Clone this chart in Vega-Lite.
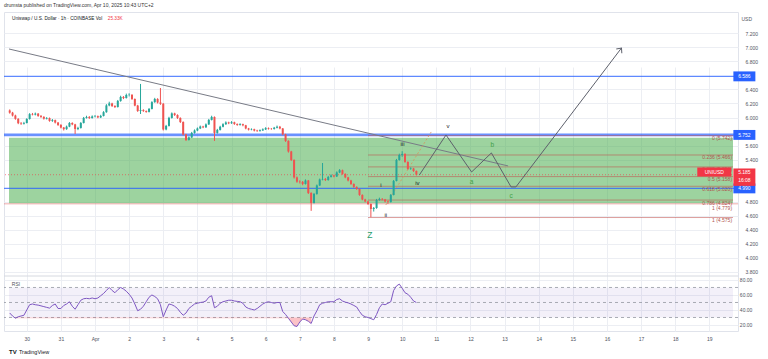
{
"$schema":"https://vega.github.io/schema/vega-lite/v6.json",
"width":734,"height":319,
"autosize":{"type":"none"},
"padding":{"left":4,"top":12,"right":30,"bottom":28},
"background":"#ffffff",
"title":{"text":"drumsta published on TradingView.com, Apr 10, 2025 10:43 UTC+2","anchor":"start","frame":"group","fontSize":5,"fontWeight":"normal","color":"#333333","offset":4},
"config":{"font":"Liberation Sans","view":{"stroke":"#e0e3eb"},"axis":{"labelOverlap":false,"labelSeparation":0}},
"data":{"format":{"parse":{"t":"utc:'%Y-%m-%d %H'"}},"values":[
{"t":"2025-03-29 12","o":6.1,"h":6.115,"l":6.055,"c":6.069,"r":36},
{"t":"2025-03-29 14","o":6.069,"h":6.08,"l":6.015,"c":6.028,"r":32},
{"t":"2025-03-29 16","o":6.028,"h":6.04,"l":5.968,"c":5.981,"r":29},
{"t":"2025-03-29 18","o":5.981,"h":5.99,"l":5.905,"c":5.919,"r":31},
{"t":"2025-03-29 20","o":5.919,"h":5.935,"l":5.895,"c":5.912,"r":32},
{"t":"2025-03-29 22","o":5.912,"h":5.938,"l":5.9,"c":5.922,"r":33},
{"t":"2025-03-30 00","o":5.922,"h":5.99,"l":5.915,"c":5.979,"r":40},
{"t":"2025-03-30 02","o":5.979,"h":6.062,"l":5.97,"c":6.048,"r":47},
{"t":"2025-03-30 04","o":6.048,"h":6.065,"l":6.03,"c":6.041,"r":48},
{"t":"2025-03-30 06","o":6.041,"h":6.07,"l":6.03,"c":6.055,"r":47},
{"t":"2025-03-30 08","o":6.055,"h":6.063,"l":6.01,"c":6.022,"r":46.5},
{"t":"2025-03-30 10","o":6.022,"h":6.035,"l":5.995,"c":6.009,"r":45.5},
{"t":"2025-03-30 12","o":6.009,"h":6.018,"l":5.97,"c":5.983,"r":44.5},
{"t":"2025-03-30 14","o":5.983,"h":6.005,"l":5.972,"c":5.992,"r":43.5},
{"t":"2025-03-30 16","o":5.992,"h":6.0,"l":5.94,"c":5.951,"r":42.5},
{"t":"2025-03-30 18","o":5.951,"h":5.978,"l":5.938,"c":5.962,"r":46},
{"t":"2025-03-30 20","o":5.962,"h":5.97,"l":5.915,"c":5.928,"r":48},
{"t":"2025-03-30 22","o":5.928,"h":5.935,"l":5.88,"c":5.894,"r":42},
{"t":"2025-03-31 00","o":5.894,"h":5.905,"l":5.845,"c":5.857,"r":42},
{"t":"2025-03-31 02","o":5.857,"h":5.865,"l":5.815,"c":5.834,"r":46},
{"t":"2025-03-31 04","o":5.834,"h":5.885,"l":5.825,"c":5.87,"r":48},
{"t":"2025-03-31 06","o":5.87,"h":5.935,"l":5.862,"c":5.922,"r":51},
{"t":"2025-03-31 08","o":5.922,"h":5.932,"l":5.89,"c":5.902,"r":45},
{"t":"2025-03-31 10","o":5.902,"h":5.91,"l":5.765,"c":5.837,"r":41},
{"t":"2025-03-31 12","o":5.837,"h":5.868,"l":5.82,"c":5.851,"r":47},
{"t":"2025-03-31 14","o":5.851,"h":5.935,"l":5.842,"c":5.922,"r":53},
{"t":"2025-03-31 16","o":5.922,"h":6.008,"l":5.915,"c":5.994,"r":55},
{"t":"2025-03-31 18","o":5.994,"h":6.025,"l":5.985,"c":6.008,"r":55.5},
{"t":"2025-03-31 20","o":6.008,"h":6.02,"l":5.98,"c":5.992,"r":55},
{"t":"2025-03-31 22","o":5.992,"h":6.03,"l":5.985,"c":6.015,"r":56},
{"t":"2025-04-01 00","o":6.015,"h":6.035,"l":6.002,"c":6.019,"r":55},
{"t":"2025-04-01 02","o":6.019,"h":6.028,"l":5.99,"c":6.002,"r":56},
{"t":"2025-04-01 04","o":6.002,"h":6.038,"l":5.992,"c":6.022,"r":59},
{"t":"2025-04-01 06","o":6.022,"h":6.09,"l":6.015,"c":6.076,"r":62},
{"t":"2025-04-01 08","o":6.076,"h":6.19,"l":6.068,"c":6.172,"r":66},
{"t":"2025-04-01 10","o":6.172,"h":6.225,"l":6.16,"c":6.2,"r":70},
{"t":"2025-04-01 12","o":6.2,"h":6.21,"l":6.15,"c":6.164,"r":66},
{"t":"2025-04-01 14","o":6.164,"h":6.175,"l":6.135,"c":6.15,"r":63},
{"t":"2025-04-01 16","o":6.15,"h":6.25,"l":6.142,"c":6.236,"r":67},
{"t":"2025-04-01 18","o":6.236,"h":6.31,"l":6.225,"c":6.293,"r":70},
{"t":"2025-04-01 20","o":6.293,"h":6.305,"l":6.262,"c":6.278,"r":68},
{"t":"2025-04-01 22","o":6.278,"h":6.34,"l":6.27,"c":6.321,"r":65},
{"t":"2025-04-02 00","o":6.321,"h":6.345,"l":6.3,"c":6.324,"r":61},
{"t":"2025-04-02 02","o":6.324,"h":6.33,"l":6.25,"c":6.264,"r":56},
{"t":"2025-04-02 04","o":6.264,"h":6.272,"l":6.16,"c":6.17,"r":48},
{"t":"2025-04-02 06","o":6.17,"h":6.18,"l":6.08,"c":6.093,"r":39},
{"t":"2025-04-02 08","o":6.093,"h":6.478,"l":6.05,"c":6.105,"r":41},
{"t":"2025-04-02 10","o":6.105,"h":6.118,"l":6.08,"c":6.093,"r":45},
{"t":"2025-04-02 12","o":6.093,"h":6.1,"l":6.068,"c":6.08,"r":51},
{"t":"2025-04-02 14","o":6.08,"h":6.135,"l":6.072,"c":6.122,"r":57},
{"t":"2025-04-02 16","o":6.122,"h":6.232,"l":6.115,"c":6.219,"r":60},
{"t":"2025-04-02 18","o":6.219,"h":6.28,"l":6.21,"c":6.264,"r":58},
{"t":"2025-04-02 20","o":6.264,"h":6.275,"l":6.2,"c":6.214,"r":55},
{"t":"2025-04-02 22","o":6.214,"h":6.42,"l":6.18,"c":6.196,"r":47},
{"t":"2025-04-03 00","o":6.196,"h":6.205,"l":5.815,"c":5.83,"r":31},
{"t":"2025-04-03 02","o":5.83,"h":5.895,"l":5.818,"c":5.88,"r":40},
{"t":"2025-04-03 04","o":5.88,"h":6.01,"l":5.872,"c":5.994,"r":48},
{"t":"2025-04-03 06","o":5.994,"h":6.072,"l":5.985,"c":6.058,"r":47},
{"t":"2025-04-03 08","o":6.058,"h":6.068,"l":6.022,"c":6.036,"r":45},
{"t":"2025-04-03 10","o":6.036,"h":6.045,"l":5.98,"c":5.994,"r":42},
{"t":"2025-04-03 12","o":5.994,"h":6.002,"l":5.922,"c":5.936,"r":37},
{"t":"2025-04-03 14","o":5.936,"h":5.945,"l":5.745,"c":5.758,"r":33},
{"t":"2025-04-03 16","o":5.758,"h":5.768,"l":5.665,"c":5.68,"r":36},
{"t":"2025-04-03 18","o":5.68,"h":5.73,"l":5.672,"c":5.716,"r":42},
{"t":"2025-04-03 20","o":5.716,"h":5.795,"l":5.708,"c":5.78,"r":45},
{"t":"2025-04-03 22","o":5.78,"h":5.83,"l":5.77,"c":5.815,"r":48},
{"t":"2025-04-04 00","o":5.815,"h":5.858,"l":5.805,"c":5.844,"r":49},
{"t":"2025-04-04 02","o":5.844,"h":5.885,"l":5.835,"c":5.871,"r":50},
{"t":"2025-04-04 04","o":5.871,"h":5.882,"l":5.848,"c":5.86,"r":50.5},
{"t":"2025-04-04 06","o":5.86,"h":5.915,"l":5.852,"c":5.901,"r":52},
{"t":"2025-04-04 08","o":5.901,"h":5.98,"l":5.895,"c":5.965,"r":57},
{"t":"2025-04-04 10","o":5.965,"h":6.025,"l":5.958,"c":6.008,"r":59},
{"t":"2025-04-04 12","o":6.008,"h":6.015,"l":5.666,"c":5.78,"r":43},
{"t":"2025-04-04 14","o":5.78,"h":5.838,"l":5.77,"c":5.823,"r":45},
{"t":"2025-04-04 16","o":5.823,"h":5.882,"l":5.815,"c":5.868,"r":49},
{"t":"2025-04-04 18","o":5.868,"h":5.918,"l":5.86,"c":5.904,"r":51},
{"t":"2025-04-04 20","o":5.904,"h":5.945,"l":5.895,"c":5.929,"r":52},
{"t":"2025-04-04 22","o":5.929,"h":5.94,"l":5.905,"c":5.918,"r":53},
{"t":"2025-04-05 00","o":5.918,"h":5.948,"l":5.91,"c":5.932,"r":53},
{"t":"2025-04-05 02","o":5.932,"h":5.94,"l":5.895,"c":5.908,"r":52},
{"t":"2025-04-05 04","o":5.908,"h":5.915,"l":5.882,"c":5.894,"r":51.5},
{"t":"2025-04-05 06","o":5.894,"h":5.918,"l":5.885,"c":5.905,"r":51},
{"t":"2025-04-05 08","o":5.905,"h":5.912,"l":5.875,"c":5.889,"r":49},
{"t":"2025-04-05 10","o":5.889,"h":5.895,"l":5.832,"c":5.844,"r":44},
{"t":"2025-04-05 12","o":5.844,"h":5.852,"l":5.815,"c":5.828,"r":42},
{"t":"2025-04-05 14","o":5.828,"h":5.845,"l":5.818,"c":5.833,"r":41},
{"t":"2025-04-05 16","o":5.833,"h":5.84,"l":5.802,"c":5.814,"r":40},
{"t":"2025-04-05 18","o":5.814,"h":5.825,"l":5.795,"c":5.808,"r":42},
{"t":"2025-04-05 20","o":5.808,"h":5.83,"l":5.798,"c":5.817,"r":45},
{"t":"2025-04-05 22","o":5.817,"h":5.845,"l":5.808,"c":5.831,"r":48},
{"t":"2025-04-06 00","o":5.831,"h":5.862,"l":5.822,"c":5.848,"r":50},
{"t":"2025-04-06 02","o":5.848,"h":5.858,"l":5.828,"c":5.839,"r":51},
{"t":"2025-04-06 04","o":5.839,"h":5.85,"l":5.825,"c":5.837,"r":50},
{"t":"2025-04-06 06","o":5.837,"h":5.866,"l":5.828,"c":5.854,"r":49},
{"t":"2025-04-06 08","o":5.854,"h":5.885,"l":5.845,"c":5.868,"r":50},
{"t":"2025-04-06 10","o":5.868,"h":5.88,"l":5.832,"c":5.844,"r":50},
{"t":"2025-04-06 12","o":5.844,"h":5.85,"l":5.748,"c":5.76,"r":38},
{"t":"2025-04-06 14","o":5.76,"h":5.768,"l":5.652,"c":5.666,"r":34},
{"t":"2025-04-06 16","o":5.666,"h":5.675,"l":5.5,"c":5.516,"r":29},
{"t":"2025-04-06 18","o":5.516,"h":5.525,"l":5.38,"c":5.395,"r":24},
{"t":"2025-04-06 20","o":5.395,"h":5.405,"l":5.13,"c":5.147,"r":19},
{"t":"2025-04-06 22","o":5.147,"h":5.16,"l":5.07,"c":5.086,"r":18},
{"t":"2025-04-07 00","o":5.086,"h":5.105,"l":5.06,"c":5.082,"r":24},
{"t":"2025-04-07 02","o":5.082,"h":5.095,"l":5.035,"c":5.053,"r":28},
{"t":"2025-04-07 04","o":5.053,"h":5.118,"l":5.045,"c":5.103,"r":27},
{"t":"2025-04-07 06","o":5.103,"h":5.11,"l":4.91,"c":4.925,"r":25},
{"t":"2025-04-07 08","o":4.925,"h":4.935,"l":4.67,"c":4.783,"r":22},
{"t":"2025-04-07 10","o":4.783,"h":4.925,"l":4.775,"c":4.911,"r":32},
{"t":"2025-04-07 12","o":4.911,"h":5.045,"l":4.9,"c":5.032,"r":39},
{"t":"2025-04-07 14","o":5.032,"h":5.13,"l":5.025,"c":5.117,"r":47},
{"t":"2025-04-07 16","o":5.117,"h":5.352,"l":5.105,"c":5.124,"r":49},
{"t":"2025-04-07 18","o":5.124,"h":5.138,"l":5.095,"c":5.11,"r":50},
{"t":"2025-04-07 20","o":5.11,"h":5.168,"l":5.1,"c":5.153,"r":51},
{"t":"2025-04-07 22","o":5.153,"h":5.19,"l":5.145,"c":5.174,"r":51},
{"t":"2025-04-08 00","o":5.174,"h":5.185,"l":5.148,"c":5.16,"r":51},
{"t":"2025-04-08 02","o":5.16,"h":5.232,"l":5.152,"c":5.217,"r":54},
{"t":"2025-04-08 04","o":5.217,"h":5.265,"l":5.208,"c":5.249,"r":55},
{"t":"2025-04-08 06","o":5.249,"h":5.258,"l":5.185,"c":5.196,"r":52},
{"t":"2025-04-08 08","o":5.196,"h":5.205,"l":5.135,"c":5.147,"r":50.5},
{"t":"2025-04-08 10","o":5.147,"h":5.155,"l":5.09,"c":5.103,"r":49.5},
{"t":"2025-04-08 12","o":5.103,"h":5.112,"l":5.04,"c":5.053,"r":48},
{"t":"2025-04-08 14","o":5.053,"h":5.062,"l":4.998,"c":5.011,"r":46},
{"t":"2025-04-08 16","o":5.011,"h":5.02,"l":4.97,"c":4.982,"r":44},
{"t":"2025-04-08 18","o":4.982,"h":4.99,"l":4.885,"c":4.897,"r":38},
{"t":"2025-04-08 20","o":4.897,"h":4.905,"l":4.82,"c":4.832,"r":33},
{"t":"2025-04-08 22","o":4.832,"h":4.842,"l":4.792,"c":4.804,"r":31},
{"t":"2025-04-09 00","o":4.804,"h":4.815,"l":4.755,"c":4.768,"r":30},
{"t":"2025-04-09 02","o":4.768,"h":4.775,"l":4.58,"c":4.697,"r":28.5},
{"t":"2025-04-09 04","o":4.697,"h":4.725,"l":4.66,"c":4.711,"r":27},
{"t":"2025-04-09 06","o":4.711,"h":4.84,"l":4.7,"c":4.825,"r":34},
{"t":"2025-04-09 08","o":4.825,"h":4.858,"l":4.815,"c":4.84,"r":43},
{"t":"2025-04-09 10","o":4.84,"h":4.852,"l":4.82,"c":4.832,"r":48},
{"t":"2025-04-09 12","o":4.832,"h":4.84,"l":4.79,"c":4.804,"r":47},
{"t":"2025-04-09 14","o":4.804,"h":4.815,"l":4.77,"c":4.797,"r":49},
{"t":"2025-04-09 16","o":4.797,"h":4.91,"l":4.788,"c":4.897,"r":51},
{"t":"2025-04-09 18","o":4.897,"h":5.11,"l":4.89,"c":5.096,"r":66},
{"t":"2025-04-09 20","o":5.096,"h":5.41,"l":5.09,"c":5.395,"r":72},
{"t":"2025-04-09 22","o":5.395,"h":5.485,"l":5.385,"c":5.466,"r":74.5},
{"t":"2025-04-10 00","o":5.466,"h":5.52,"l":5.44,"c":5.481,"r":69},
{"t":"2025-04-10 02","o":5.481,"h":5.49,"l":5.355,"c":5.367,"r":63},
{"t":"2025-04-10 04","o":5.367,"h":5.375,"l":5.255,"c":5.267,"r":61},
{"t":"2025-04-10 06","o":5.267,"h":5.29,"l":5.255,"c":5.274,"r":57},
{"t":"2025-04-10 08","o":5.274,"h":5.282,"l":5.225,"c":5.238,"r":52},
{"t":"2025-04-10 10","o":5.238,"h":5.245,"l":5.175,"c":5.185,"r":50}
]},
"layer":[
{"layer":[
 {"data":{"values":[{"top":5.71,"bot":4.78}]},
  "mark":{"type":"rect","color":"#4caf50","opacity":0.55},
  "encoding":{
   "x":{"datum":{"year":2025,"month":3,"date":29,"hours":11,"minutes":30,"utc":true},"type":"temporal"},
   "x2":{"datum":{"year":2025,"month":4,"date":19,"hours":16,"minutes":40,"utc":true}},
   "y":{"field":"top","type":"quantitative","title":null},
   "y2":{"field":"bot"}}},
 {"data":{"values":[{"p":6.586},{"p":4.99}]},
  "mark":{"type":"rule","color":"#2962ff","opacity":0.75,"strokeWidth":1.2},
  "encoding":{"y":{"field":"p","type":"quantitative","title":null}}},
 {"data":{"values":[{"p":5.752}]},
  "mark":{"type":"rule","color":"#2962ff","opacity":0.7,"strokeWidth":2.6},
  "encoding":{"y":{"field":"p","type":"quantitative","title":null}}},
 {"data":{"values":[{"p":4.77}]},
  "mark":{"type":"rule","color":"#e57373","opacity":0.6,"strokeWidth":1},
  "encoding":{"y":{"field":"p","type":"quantitative","title":null}}},
 {"data":{"values":[{"p":3.742}]},
  "mark":{"type":"rule","color":"#d6d9e0","strokeWidth":1},
  "encoding":{"y":{"field":"p","type":"quantitative","title":null}}},
 {"data":{"values":[{"p":5.742},{"p":5.466},{"p":5.296},{"p":5.158},{"p":5.02},{"p":4.824},{"p":4.575}]},
  "mark":{"type":"rule","color":"#c0504d","opacity":0.55,"strokeWidth":1},
  "encoding":{
   "x":{"datum":{"year":2025,"month":4,"date":9,"hours":0,"utc":true},"type":"temporal"},
   "x2":{"datum":{"year":2025,"month":4,"date":19,"hours":16,"minutes":40,"utc":true}},
   "y":{"field":"p","type":"quantitative","title":null}}},
 {"data":{"values":[{"p":5.185}]},
  "mark":{"type":"rule","color":"#f23645","opacity":0.6,"strokeWidth":1,"strokeDash":[1,2]},
  "encoding":{"y":{"field":"p","type":"quantitative","title":null}}},
 {"data":{"values":[{"d":"2025-03-29T11:30:00Z","p":6.976},{"d":"2025-04-13T02:30:00Z","p":5.31}]},
  "mark":{"type":"line","color":"#787b86","strokeWidth":1},
  "encoding":{"x":{"field":"d","type":"temporal","title":null},"y":{"field":"p","type":"quantitative","title":null}}},
 {"data":{"values":[{"d":"2025-04-09T12:30:00Z","p":4.754},{"d":"2025-04-10T20:25:00Z","p":5.794}]},
  "mark":{"type":"line","color":"#d9915a","opacity":0.8,"strokeWidth":1,"strokeDash":[2,2]},
  "encoding":{"x":{"field":"d","type":"temporal","title":null},"y":{"field":"p","type":"quantitative","title":null}}},
 {"data":{"values":[{"d":"2025-04-10T12:05:00Z","p":5.181},{"d":"2025-04-11T06:50:00Z","p":5.751},{"d":"2025-04-12T00:50:00Z","p":5.224},{"d":"2025-04-12T14:45:00Z","p":5.495},{"d":"2025-04-13T04:35:00Z","p":5.011},{"d":"2025-04-13T08:00:00Z","p":5.011},{"d":"2025-04-16T10:15:00Z","p":6.99}]},
  "mark":{"type":"line","color":"#5d606b","strokeWidth":1},
  "encoding":{"x":{"field":"d","type":"temporal","title":null},"y":{"field":"p","type":"quantitative","title":null}}},
 {"data":{"values":[{"d":"2025-04-16T10:15:00Z","p":6.99}]},
  "mark":{"type":"point","shape":"M-0.7,0.8L0,0L0.7,0.8","filled":false,"stroke":"#5d606b","strokeWidth":1,"opacity":1,"size":100,"angle":37.6},
  "encoding":{"x":{"field":"d","type":"temporal","title":null},"y":{"field":"p","type":"quantitative","title":null}}},
 {"mark":{"type":"rule","strokeWidth":1},
  "encoding":{
   "x":{"field":"t","type":"temporal","title":null,
    "scale":{"type":"utc","domain":[{"year":2025,"month":3,"date":29,"hours":11,"minutes":30,"utc":true},{"year":2025,"month":4,"date":19,"hours":16,"minutes":40,"utc":true}]},
    "axis":{"title":null,"orient":"bottom","tickCount":{"interval":"day","step":1},"labelExpr":"utcdate(datum.value) == 1 ? 'Apr' : '' + utcdate(datum.value)","labelFontSize":5,"labelColor":"#50535e","grid":true,"gridColor":"#eceef3","domain":false,"ticks":false,"labelPadding":5,"labelOverlap":false}},
   "y":{"field":"l","type":"quantitative","title":null,
    "scale":{"domain":[3.742,7.503],"range":[264,0],"zero":false,"nice":false},
    "axis":{"title":null,"orient":"right","values":[3.8,4,4.2,4.4,4.6,4.8,5.4,5.6,6,6.2,6.4,6.8,7,7.2],"tickCount":40,"format":".3f","labelFontSize":5,"labelColor":"#50535e","grid":true,"gridColor":"#eceef3","domain":false,"ticks":false,"labelPadding":7,"labelOverlap":false}},
   "y2":{"field":"h"},
   "color":{"condition":{"test":"datum.c >= datum.o","value":"#26a69a"},"value":"#ef5350"}}},
 {"mark":{"type":"bar","size":2},
  "encoding":{
   "x":{"field":"t","type":"temporal","title":null},
   "y":{"field":"o","type":"quantitative","title":null},
   "y2":{"field":"c"},
   "color":{"condition":{"test":"datum.c >= datum.o","value":"#26a69a"},"value":"#ef5350"}}},
 {"data":{"values":[{"d":"2025-04-09T09:00:00Z","p":5.04,"s":"i"},{"d":"2025-04-09T12:30:00Z","p":4.61,"s":"ii"},{"d":"2025-04-10T00:15:00Z","p":5.62,"s":"iii"},{"d":"2025-04-10T10:40:00Z","p":5.07,"s":"iv"},{"d":"2025-04-11T08:10:00Z","p":5.88,"s":"v"}]},
  "mark":{"type":"text","fontSize":6,"color":"#131722","align":"center","baseline":"middle"},
  "encoding":{"x":{"field":"d","type":"temporal","title":null},"y":{"field":"p","type":"quantitative","title":null},"text":{"field":"s"}}},
 {"data":{"values":[{"d":"2025-04-12T00:50:00Z","p":5.08,"s":"a"},{"d":"2025-04-12T15:20:00Z","p":5.61,"s":"b"},{"d":"2025-04-13T04:35:00Z","p":4.88,"s":"c"}]},
  "mark":{"type":"text","fontSize":6.5,"color":"#43a047","align":"center","baseline":"middle"},
  "encoding":{"x":{"field":"d","type":"temporal","title":null},"y":{"field":"p","type":"quantitative","title":null},"text":{"field":"s"}}},
 {"data":{"values":[{"d":"2025-04-09T01:20:00Z","p":4.33,"s":"Z"}]},
  "mark":{"type":"text","fontSize":8.5,"color":"#2a9d6a","align":"center","baseline":"middle"},
  "encoding":{"x":{"field":"d","type":"temporal","title":null},"y":{"field":"p","type":"quantitative","title":null},"text":{"field":"s"}}},
 {"data":{"values":[{"p":5.742,"s":"0 (5.742)"},{"p":5.466,"s":"0.236 (5.466)"},{"p":5.296,"s":"0.382 (5.296)"},{"p":5.158,"s":"0.5 (5.158)"},{"p":5.02,"s":"0.618 (5.020)"},{"p":4.824,"s":"0.786 (4.824)"},{"p":4.575,"s":"1 (4.575)"}]},
  "mark":{"type":"text","fontSize":5,"color":"#b0554e","align":"right","baseline":"top","dy":0.5},
  "encoding":{"x":{"datum":{"year":2025,"month":4,"date":19,"hours":16,"utc":true},"type":"temporal"},"y":{"field":"p","type":"quantitative","title":null},"text":{"field":"s"}}},
 {"data":{"values":[{"p":4.77,"s":"1 (4.779)"}]},
  "mark":{"type":"text","fontSize":5,"color":"#b0554e","align":"right","baseline":"top","dy":2.5},
  "encoding":{"x":{"datum":{"year":2025,"month":4,"date":19,"hours":16,"utc":true},"type":"temporal"},"y":{"field":"p","type":"quantitative","title":null},"text":{"field":"s"}}},
 {"data":{"values":[{"s":"Uniswap / U.S. Dollar · 1h · COINBASE  Vol"}]},
  "mark":{"type":"text","fontSize":4.7,"color":"#131722","align":"left","baseline":"middle"},
  "encoding":{"x":{"datum":{"year":2025,"month":3,"date":29,"hours":13,"minutes":40,"utc":true},"type":"temporal"},"y":{"datum":7.4,"type":"quantitative"},"text":{"field":"s"}}},
 {"data":{"values":[{"s":"25.33K"}]},
  "mark":{"type":"text","fontSize":4.7,"color":"#f23645","align":"left","baseline":"middle"},
  "encoding":{"x":{"datum":{"year":2025,"month":4,"date":1,"hours":9,"minutes":0,"utc":true},"type":"temporal"},"y":{"datum":7.4,"type":"quantitative"},"text":{"field":"s"}}},
 {"data":{"values":[{"s":"USD"}]},
  "mark":{"type":"text","fontSize":5,"color":"#50535e","align":"center","baseline":"middle"},
  "encoding":{"x":{"datum":{"year":2025,"month":4,"date":20,"hours":2,"minutes":20,"utc":true},"type":"temporal"},"y":{"datum":7.41,"type":"quantitative"},"text":{"field":"s"}}},
 {"data":{"values":[{"p":6.586,"s":"6.586"},{"p":5.752,"s":"5.752"},{"p":4.99,"s":"4.990"}]},
  "layer":[
   {"mark":{"type":"point","shape":"M-1,-0.45L1,-0.45L1,0.45L-1,0.45Z","filled":true,"color":"#2962ff","opacity":1,"size":484},
    "encoding":{"x":{"datum":{"year":2025,"month":4,"date":20,"hours":0,"minutes":40,"utc":true},"type":"temporal"},"y":{"field":"p","type":"quantitative","title":null}}},
   {"mark":{"type":"text","fontSize":5,"color":"#ffffff","align":"center","baseline":"middle"},
    "encoding":{"x":{"datum":{"year":2025,"month":4,"date":20,"hours":0,"minutes":40,"utc":true},"type":"temporal"},"y":{"field":"p","type":"quantitative","title":null},"text":{"field":"s"}}}
  ]},
 {"data":{"values":[{"p":5.15}]},
  "mark":{"type":"point","shape":"M-1,-0.79L1,-0.79L1,0.79L-1,0.79Z","filled":true,"color":"#f23645","opacity":1,"size":484},
  "encoding":{"x":{"datum":{"year":2025,"month":4,"date":20,"hours":0,"minutes":40,"utc":true},"type":"temporal"},"y":{"field":"p","type":"quantitative","title":null}}},
 {"data":{"values":[{"p":5.225}]},
  "mark":{"type":"point","shape":"M-1,-0.265L1,-0.265L1,0.265L-1,0.265Z","filled":true,"color":"#f23645","opacity":1,"size":1156},
  "encoding":{"x":{"datum":{"year":2025,"month":4,"date":19,"hours":3,"minutes":30,"utc":true},"type":"temporal"},"y":{"field":"p","type":"quantitative","title":null}}},
 {"data":{"values":[{"p":5.218,"s":"5.185"},{"p":5.104,"s":"16:08"}]},
  "mark":{"type":"text","fontSize":5,"color":"#ffffff","align":"center","baseline":"middle"},
  "encoding":{"x":{"datum":{"year":2025,"month":4,"date":20,"hours":0,"minutes":40,"utc":true},"type":"temporal"},"y":{"field":"p","type":"quantitative","title":null},"text":{"field":"s"}}},
 {"data":{"values":[{"p":5.225,"s":"UNIUSD"}]},
  "mark":{"type":"text","fontSize":5,"color":"#ffffff","align":"center","baseline":"middle"},
  "encoding":{"x":{"datum":{"year":2025,"month":4,"date":19,"hours":3,"minutes":30,"utc":true},"type":"temporal"},"y":{"field":"p","type":"quantitative","title":null},"text":{"field":"s"}}}
]},
{"layer":[
 {"data":{"values":[{"a":70,"b":30}]},
  "mark":{"type":"rect","color":"#7e57c2","opacity":0.09},
  "encoding":{
   "x":{"datum":{"year":2025,"month":3,"date":29,"hours":11,"minutes":30,"utc":true},"type":"temporal"},
   "x2":{"datum":{"year":2025,"month":4,"date":19,"hours":16,"minutes":40,"utc":true}},
   "y":{"field":"a","type":"quantitative","title":null},
   "y2":{"field":"b"}}},
 {"data":{"values":[{"v":70},{"v":50},{"v":30}]},
  "mark":{"type":"rule","color":"#9598a1","strokeWidth":1,"strokeDash":[3,3],"opacity":0.8},
  "encoding":{"y":{"field":"v","type":"quantitative","title":null}}},
 {"transform":[{"filter":"datum.r < 30 && time(datum.t) < utc(2025,3,8)"}],
  "mark":{"type":"area","color":"#f23645","opacity":0.3},
  "encoding":{"x":{"field":"t","type":"temporal","title":null},"y":{"field":"r","type":"quantitative","title":null},"y2":{"datum":30}}},
 {"mark":{"type":"line","color":"#7e57c2","strokeWidth":1},
  "encoding":{
   "x":{"field":"t","type":"temporal","title":null},
   "y":{"field":"r","type":"quantitative","title":null,
    "scale":{"domain":[12,85.3],"range":[319,264],"zero":false,"nice":false},
    "axis":{"title":null,"orient":"right","values":[20,40,60,80],"tickCount":20,"labels":false,"grid":true,"gridColor":"#eceef3","domain":false,"ticks":false}}}},
 {"data":{"values":[{"v":80,"s":"80.00"},{"v":60,"s":"60.00"},{"v":40,"s":"40.00"},{"v":20,"s":"20.00"}]},
  "mark":{"type":"text","fontSize":5,"color":"#50535e","align":"left","baseline":"middle"},
  "encoding":{"x":{"datum":{"year":2025,"month":4,"date":19,"hours":21,"minutes":30,"utc":true},"type":"temporal"},"y":{"field":"v","type":"quantitative","title":null},"text":{"field":"s"}}},
 {"data":{"values":[{"s":"RSI"}]},
  "mark":{"type":"text","fontSize":5,"color":"#50535e","align":"left","baseline":"middle"},
  "encoding":{"x":{"datum":{"year":2025,"month":3,"date":29,"hours":13,"minutes":30,"utc":true},"type":"temporal"},"y":{"datum":74.7,"type":"quantitative"},"text":{"field":"s"}}},
 {"data":{"values":[{"s":"TV"}]},
  "mark":{"type":"text","fontSize":6,"fontWeight":"bold","color":"#131722","align":"left","baseline":"middle"},
  "encoding":{"x":{"datum":{"year":2025,"month":3,"date":29,"hours":11,"minutes":30,"utc":true},"type":"temporal"},"y":{"datum":-16,"type":"quantitative"},"text":{"field":"s"}}},
 {"data":{"values":[{"s":"TradingView"}]},
  "mark":{"type":"text","fontSize":5.5,"color":"#131722","align":"left","baseline":"middle"},
  "encoding":{"x":{"datum":{"year":2025,"month":3,"date":29,"hours":18,"minutes":30,"utc":true},"type":"temporal"},"y":{"datum":-16,"type":"quantitative"},"text":{"field":"s"}}}
]}
],
"resolve":{"scale":{"y":"independent"},"axis":{"y":"independent"}}
}
